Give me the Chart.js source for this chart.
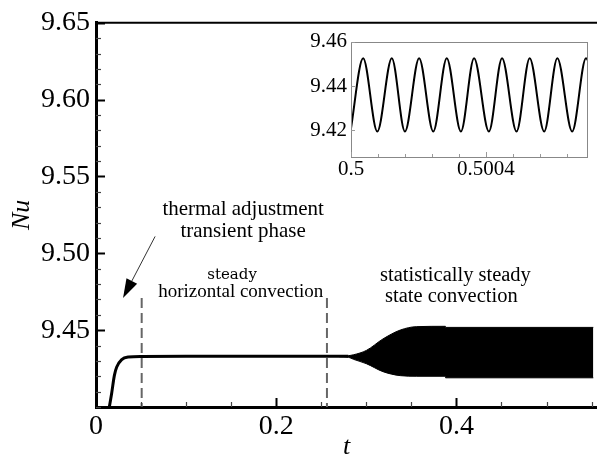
<!DOCTYPE html>
<html lang="en">
<head>
<meta charset="UTF-8">
<title>Nu versus t</title>
<script src="https://cdn.jsdelivr.net/npm/chart.js"></script>
<style>
  body { margin: 0; background: #fff; }
  #wrap { position: relative; width: 597px; height: 456px; }
  #mainChart { position: absolute; left: 0; top: 0; }
  #insetChart { position: absolute; left: 300px; top: 25px; }
</style>
</head>
<body>
<div id="wrap">
  <canvas id="mainChart" width="597" height="456"></canvas>
  <canvas id="insetChart" width="297" height="160"></canvas>
</div>
<script>
// start-up transient + steady horizontal convection
const riseT  = [0.0135, 0.0148, 0.0174, 0.0204, 0.023, 0.0285, 0.0359, 0.051, 0.10, 0.15, 0.20, 0.25, 0.28];
const riseNu = [9.395, 9.400, 9.409, 9.4206, 9.426, 9.4308, 9.4325, 9.4329, 9.433, 9.433, 9.433, 9.433, 9.433];

// envelope of the oscillating (statistically steady) part
const envT     = [0.27, 0.28, 0.2859, 0.30, 0.3185, 0.3378, 0.356, 0.3878, 0.3879, 0.5519];
const envUpper = [9.4331, 9.4334, 9.434, 9.4368, 9.4443, 9.4501, 9.4523, 9.4525, 9.4518, 9.4518];
const envLower = [9.4327, 9.4324, 9.431, 9.4282, 9.423, 9.4204, 9.420, 9.420, 9.419, 9.419];

// phase boundaries (dashed)
const phaseT = [0.0507, 0.2563];
const phaseTop = 9.471;

// axis ticks
const xTicks  = [0, 0.05, 0.1, 0.15, 0.2, 0.25, 0.3, 0.35, 0.4, 0.45, 0.5, 0.55];
const xLabels = [0, 0.2, 0.4];
const yTicks  = [9.40, 9.41, 9.42, 9.43, 9.44, 9.45, 9.46, 9.47, 9.48, 9.49, 9.50, 9.51, 9.52, 9.53,
                 9.54, 9.55, 9.56, 9.57, 9.58, 9.59, 9.60, 9.61, 9.62, 9.63, 9.64, 9.65];
const yLabels = [9.45, 9.50, 9.55, 9.60, 9.65];

// inset: zoom on the oscillation (peaks / troughs)
const insetT  = [0.4999985, 0.500036, 0.500078, 0.500121, 0.500160, 0.500202, 0.500244, 0.500284, 0.500326,
                 0.500365, 0.500409, 0.500448, 0.500491, 0.500530, 0.500573, 0.500612, 0.500656, 0.500697, 0.500738];
const insetNu = [9.4195, 9.4525, 9.4195, 9.4525, 9.4195, 9.4525, 9.4195, 9.4525, 9.4195,
                 9.4525, 9.4195, 9.4525, 9.4195, 9.4525, 9.4195, 9.4525, 9.4195, 9.4525, 9.4195];
const insetXTicks  = [0.5, 0.50008, 0.50016, 0.50024, 0.50032, 0.5004, 0.50048, 0.50056, 0.50064];
const insetXLabels = [0.5, 0.5004];
const insetYTicks  = [9.42, 9.44, 9.46];

const serif = 'Liberation Serif';

// text notes placed in data coordinates
const notes = [
  { text: 'thermal adjustment', t: 0.1633, nu: 9.5284, size: 21 },
  { text: 'transient phase', t: 0.1633, nu: 9.5142, size: 21 },
  { text: 'steady', t: 0.151, nu: 9.4858, size: 15, family: 'DejaVu Serif' },
  { text: 'horizontal convection', t: 0.1606, nu: 9.4745, size: 19 },
  { text: 'statistically steady', t: 0.3989, nu: 9.4852, size: 20.5 },
  { text: 'state convection', t: 0.3944, nu: 9.4716, size: 20.5 }
];
const arrowFrom = { t: 0.0656, nu: 9.511 };
const arrowTo   = { t: 0.030, nu: 9.471 };

function pts(xs, ys) { return xs.map((x, i) => ({ x: x, y: ys[i] })); }

// inward tick marks, top frame line, notes and arrow
const mainDecor = {
  id: 'mainDecor',
  afterDraw(chart) {
    const { ctx, chartArea: a, scales: { x, y } } = chart;
    ctx.save();
    ctx.strokeStyle = '#000';
    ctx.lineWidth = 2;
    ctx.beginPath(); ctx.moveTo(a.left, a.top); ctx.lineTo(a.right, a.top); ctx.stroke();

    yTicks.forEach(v => {
      const big = yLabels.includes(v);
      const py = Math.round(y.getPixelForValue(v)) + 0.5;
      ctx.lineWidth = big ? 2 : 1.2;
      ctx.strokeStyle = big ? '#000' : '#444';
      ctx.beginPath(); ctx.moveTo(a.left, py); ctx.lineTo(a.left + (big ? 9 : 5), py); ctx.stroke();
    });
    xTicks.forEach(v => {
      const big = xLabels.includes(v);
      const px = Math.round(x.getPixelForValue(v)) + 0.5;
      ctx.lineWidth = big ? 2 : 1.2;
      ctx.strokeStyle = big ? '#000' : '#444';
      ctx.beginPath(); ctx.moveTo(px, a.bottom); ctx.lineTo(px, a.bottom - (big ? 9 : 5)); ctx.stroke();
    });

    ctx.fillStyle = '#000';
    ctx.textAlign = 'center';
    ctx.textBaseline = 'middle';
    notes.forEach(n => {
      ctx.font = n.size + 'px "' + (n.family || serif) + '"';
      ctx.fillText(n.text, x.getPixelForValue(n.t), y.getPixelForValue(n.nu));
    });

    // arrow
    const x0 = x.getPixelForValue(arrowFrom.t), y0 = y.getPixelForValue(arrowFrom.nu);
    const x1 = x.getPixelForValue(arrowTo.t), y1 = y.getPixelForValue(arrowTo.nu);
    const ang = Math.atan2(y1 - y0, x1 - x0);
    const hl = 19, hw = 6;
    const bx = x1 - hl * Math.cos(ang), by = y1 - hl * Math.sin(ang);
    ctx.strokeStyle = '#333';
    ctx.lineWidth = 1;
    ctx.beginPath(); ctx.moveTo(x0, y0); ctx.lineTo(bx, by); ctx.stroke();
    ctx.beginPath();
    ctx.moveTo(x1, y1);
    ctx.lineTo(bx + hw * Math.sin(ang), by - hw * Math.cos(ang));
    ctx.lineTo(bx - hw * Math.sin(ang), by + hw * Math.cos(ang));
    ctx.closePath();
    ctx.fill();
    ctx.restore();
  }
};

const dashStyle = { borderColor: '#666', borderWidth: 2, borderDash: [10, 5], pointRadius: 0, tension: 0 };

new Chart(document.getElementById('mainChart'), {
  type: 'line',
  data: {
    datasets: [
      { data: pts(riseT, riseNu), borderColor: '#000', borderWidth: 3, pointRadius: 0, cubicInterpolationMode: 'monotone' },
      { data: pts(envT, envUpper), borderColor: '#000', borderWidth: 1, pointRadius: 0, fill: '+1', backgroundColor: '#000', cubicInterpolationMode: 'monotone' },
      { data: pts(envT, envLower), borderColor: '#000', borderWidth: 1, pointRadius: 0, cubicInterpolationMode: 'monotone' },
      Object.assign({ data: [{ x: phaseT[0], y: phaseTop }, { x: phaseT[0], y: 9.40 }] }, dashStyle),
      Object.assign({ data: [{ x: phaseT[1], y: phaseTop }, { x: phaseT[1], y: 9.40 }] }, dashStyle)
    ]
  },
  options: {
    responsive: false,
    animation: false,
    layout: { padding: { top: 19, right: 0, bottom: 0, left: 0 } },
    plugins: { legend: { display: false }, tooltip: { enabled: false } },
    scales: {
      x: {
        type: 'linear', min: 0, max: 0.556,
        grid: { display: false, drawTicks: false },
        border: { display: true, color: '#000', width: 3 },
        afterBuildTicks: s => { s.ticks = xTicks.map(v => ({ value: v })); },
        afterFit: s => { s.height = 49; },
        ticks: {
          autoSkip: false, maxRotation: 0, padding: 3, color: '#000',
          font: { family: serif, size: 28 },
          callback: v => xLabels.includes(v) ? String(v) : ''
        },
        title: {
          display: true, text: 't', color: '#000',
          font: { family: serif, size: 26, style: 'italic', lineHeight: 0.7 },
          padding: { top: 0, bottom: 0 }
        }
      },
      y: {
        type: 'linear', min: 9.40, max: 9.65,
        grid: { display: false, drawTicks: false },
        border: { display: true, color: '#000', width: 3 },
        afterBuildTicks: s => { s.ticks = yTicks.map(v => ({ value: v })); },
        afterFit: s => { s.width = 96; },
        ticks: {
          autoSkip: false, padding: 6, color: '#000',
          font: { family: serif, size: 28 },
          callback: v => yLabels.includes(v) ? v.toFixed(2) : ''
        },
        title: {
          display: true, text: 'Nu', color: '#000',
          font: { family: serif, size: 26, style: 'italic' },
          padding: { top: 7, bottom: 0 }
        }
      }
    }
  },
  plugins: [mainDecor]
});

// inset frame and inward ticks
const insetDecor = {
  id: 'insetDecor',
  afterDraw(chart) {
    const { ctx, chartArea: a, scales: { x, y } } = chart;
    ctx.save();
    ctx.strokeStyle = '#888';
    ctx.lineWidth = 1;
    ctx.strokeRect(Math.round(a.left) + 0.5, Math.round(a.top) + 0.5,
                   Math.round(a.right - a.left), Math.round(a.bottom - a.top));
    ctx.strokeStyle = '#999';
    insetXTicks.forEach(v => {
      const px = Math.round(x.getPixelForValue(v)) + 0.5;
      const len = insetXLabels.includes(v) ? 5 : 3;
      ctx.beginPath(); ctx.moveTo(px, a.bottom); ctx.lineTo(px, a.bottom - len); ctx.stroke();
    });
    insetYTicks.forEach(v => {
      const py = Math.round(y.getPixelForValue(v)) + 0.5;
      ctx.beginPath(); ctx.moveTo(a.left, py); ctx.lineTo(a.left + 4, py); ctx.stroke();
    });
    ctx.restore();
  }
};

new Chart(document.getElementById('insetChart'), {
  type: 'line',
  data: {
    datasets: [
      { data: pts(insetT, insetNu), borderColor: '#000', borderWidth: 2, pointRadius: 0, cubicInterpolationMode: 'monotone' }
    ]
  },
  options: {
    responsive: false,
    animation: false,
    layout: { padding: { top: 16, right: 10, bottom: 0, left: 0 } },
    plugins: { legend: { display: false }, tooltip: { enabled: false } },
    scales: {
      x: {
        type: 'linear', min: 0.5, max: 0.5007,
        grid: { display: false, drawTicks: false },
        border: { display: false },
        afterBuildTicks: s => { s.ticks = insetXTicks.map(v => ({ value: v })); },
        afterFit: s => { s.height = 28; },
        ticks: {
          autoSkip: false, maxRotation: 0, padding: 0, color: '#000',
          font: { family: serif, size: 21 },
          callback: v => insetXLabels.includes(v) ? String(v) : ''
        }
      },
      y: {
        type: 'linear', min: 9.408, max: 9.46,
        grid: { display: false, drawTicks: false },
        border: { display: false },
        afterBuildTicks: s => { s.ticks = insetYTicks.map(v => ({ value: v })); },
        afterFit: s => { s.width = 51; },
        ticks: {
          autoSkip: false, padding: 4, color: '#000',
          font: { family: serif, size: 21 },
          callback: v => v.toFixed(2)
        }
      }
    }
  },
  plugins: [insetDecor]
});
</script>
</body>
</html>
